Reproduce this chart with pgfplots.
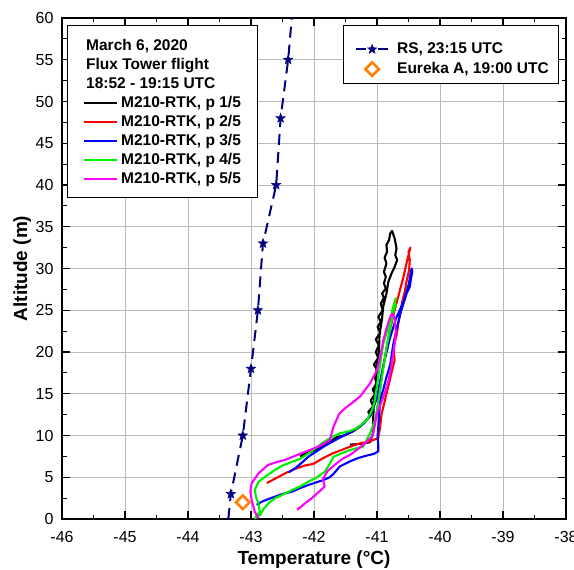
\documentclass[border=0pt]{standalone}
\usepackage{fontspec}
\setmainfont{Liberation Sans}
\usepackage{pgfplots}
\pgfplotsset{compat=1.18}

\definecolor{rsnavy}{RGB}{0,0,128}
\definecolor{eorange}{RGB}{255,128,0}
\definecolor{mgreen}{RGB}{0,240,0}
\definecolor{mmag}{RGB}{255,0,255}

% filled five-point star
\pgfdeclareplotmark{fstar}{%
  \pgfpathmoveto{\pgfpointpolar{90}{\pgfplotmarksize}}%
  \pgfpathlineto{\pgfpointpolar{126}{0.42\pgfplotmarksize}}%
  \pgfpathlineto{\pgfpointpolar{162}{\pgfplotmarksize}}%
  \pgfpathlineto{\pgfpointpolar{198}{0.42\pgfplotmarksize}}%
  \pgfpathlineto{\pgfpointpolar{234}{\pgfplotmarksize}}%
  \pgfpathlineto{\pgfpointpolar{270}{0.42\pgfplotmarksize}}%
  \pgfpathlineto{\pgfpointpolar{306}{\pgfplotmarksize}}%
  \pgfpathlineto{\pgfpointpolar{342}{0.42\pgfplotmarksize}}%
  \pgfpathlineto{\pgfpointpolar{18}{\pgfplotmarksize}}%
  \pgfpathlineto{\pgfpointpolar{54}{0.42\pgfplotmarksize}}%
  \pgfpathclose
  \pgfusepathqfillstroke
}

\pgfplotsset{
  base/.style={
    scale only axis, width=504pt, height=501pt,
    at={(0,0)}, anchor=south west,
    xmin=-46, xmax=-38, ymin=0, ymax=60,
  },
  m210/.style={line width=2.1pt, line join=round},
  lgd/.style={
    draw=none, fill=none,
    font=\bfseries\fontsize{15.5}{18}\selectfont,
    row sep=0pt,
  },
}

\begin{document}
\begin{tikzpicture}
\begin{axis}[base, name=main,
  xtick={-46,-45,...,-38}, ytick={0,5,...,60},
  minor x tick num=1, minor y tick num=1,
  tick align=inside, tick pos=both,
  major tick length=8pt, minor tick length=4.5pt,
  every tick/.style={black, line width=1.1pt},
  grid=major, major grid style={black!27, line width=0.9pt},
  axis line style={line width=1.2pt},
  tick label style={font=\fontsize{16}{19}\selectfont},
  xticklabel style={yshift=-9pt},
  yticklabel style={xshift=-5pt},
  /pgf/number format/assume math mode=true,
  xlabel={\bfseries Temperature (°C)},
  ylabel={\bfseries Altitude (m)},
  label style={font=\fontsize{19}{22}\selectfont},
  xlabel style={at={(axis description cs:0.5,-0.081)}, anchor=center},
  ylabel style={at={(axis description cs:-0.079,0.5)}, anchor=center},
  legend style={lgd, inner xsep=11pt, inner ysep=14.3pt,
    nodes={inner ysep=2pt, text height=12.2pt, text depth=3.5pt},
    at={(rel axis cs:0.5575,0.986)}, anchor=north west},
  legend cell align=left,
]
% radiosonde profile
\addplot[rsnavy, line width=2pt, dash pattern=on 11pt off 7pt, forget plot]
  coordinates {(-43.36,0) (-43.32,3) (-43.13,10) (-43.00,18) (-42.89,25)
               (-42.81,33) (-42.60,40) (-42.53,48) (-42.41,55) (-42.33,62)};
\addplot[rsnavy, only marks, mark=fstar, mark size=5pt, forget plot]
  coordinates {(-43.32,3) (-43.13,10) (-43.00,18) (-42.89,25)
               (-42.81,33) (-42.60,40) (-42.53,48) (-42.41,55)};
% Eureka station
\addplot[eorange, only marks, mark=square, mark size=4.8pt, line width=2.6pt,
  mark options={rotate=45}, forget plot]
  coordinates {(-43.13,2)};

% legend frame
\draw[black, line width=0.8pt, fill=white]
  (rel axis cs:0.5575,0.8703) rectangle (rel axis cs:0.9841,0.986);

\addlegendimage{legend image code/.code={
  \path[draw=none] (0pt,0pt) rectangle (41pt,0.1pt);
  \draw[rsnavy, line width=2pt] (2pt,0pt) -- (12pt,0pt) (24pt,0pt) -- (34pt,0pt);
  \draw[color=rsnavy, fill=rsnavy] plot[only marks, mark=fstar, mark size=5pt] coordinates {(18pt,0pt)};}}
\addlegendentry{RS, 23:15 UTC}
\addlegendimage{legend image code/.code={
  \path[draw=none] (0pt,0pt) rectangle (41pt,0.1pt);
  \draw[eorange, line width=2.6pt] plot[only marks, mark=square, mark size=4.8pt, mark options={rotate=45}] coordinates {(18pt,0pt)};}}
\addlegendentry{Eureka A, 19:00 UTC}
\end{axis}

\begin{axis}[base, hide axis,
  legend style={lgd, inner xsep=12pt, inner ysep=11.5pt,
    nodes={inner ysep=2pt, text height=11.5pt, text depth=3.5pt},
    at={(rel axis cs:0.0099,0.986)}, anchor=north west},
  legend cell align=left,
  legend image code/.code={\path[draw=none] (0pt,0pt) rectangle (40pt,0.1pt); \draw[#1] (5pt,0pt) -- (38pt,0pt);},
]
% legend frame
\draw[black, line width=0.8pt, fill=white]
  (rel axis cs:0.0099,0.6427) rectangle (rel axis cs:0.3869,0.986);

\addlegendimage{empty legend}
\addlegendentry{\hspace*{-35pt}March 6, 2020}
\addlegendimage{empty legend}
\addlegendentry{\hspace*{-35pt}Flux Tower flight}
\addlegendimage{empty legend}
\addlegendentry{\hspace*{-35pt}18:52 - 19:15 UTC}

% p 1/5
\addplot[m210, black] coordinates {
 (-42.22,7.5) (-42.15,7.8) (-42.06,8.0) (-41.95,8.4) (-41.86,8.7) (-41.74,9.3)
 (-41.64,9.8) (-41.52,10.0) (-41.38,10.5) (-41.28,11.0) (-41.16,11.9) (-41.10,12.4)
 (-41.14,12.8) (-41.06,13.5) (-41.10,14.2) (-41.03,15.0) (-41.07,15.5) (-41.00,16.3)
 (-41.04,17.0) (-40.99,17.8) (-41.05,18.5) (-40.98,19.3) (-41.02,20.0) (-40.97,20.8)
 (-41.02,21.5) (-40.95,22.3) (-40.99,23.0) (-40.94,23.6) (-40.98,24.2) (-40.91,25.0)
 (-40.94,25.8) (-40.89,26.5) (-40.92,27.0) (-40.86,27.6) (-40.89,28.2) (-40.86,29.0)
 (-40.89,29.6) (-40.85,30.6) (-40.88,31.3) (-40.84,32.0) (-40.85,32.8) (-40.81,33.4)
 (-40.79,34.2) (-40.76,34.5) (-40.72,33.6) (-40.69,32.4) (-40.71,31.6) (-40.68,31.0)
 (-40.72,30.2) (-40.77,29.4) (-40.82,28.4) (-40.85,27.0) (-40.90,25.5) (-40.92,24.0)
 (-40.96,22.0) (-40.97,20.0) (-41.01,18.0) (-41.02,16.0) (-41.05,14.0) (-41.06,12.0)
 (-41.06,10.3) (-41.11,9.2) (-41.25,9.0) (-41.43,8.9)};
\addlegendentry{M210-RTK, p 1/5}

% p 2/5
\addplot[m210, red] coordinates {
 (-42.75,4.3) (-42.60,4.9) (-42.45,5.5) (-42.30,6.0) (-42.15,6.4) (-42.01,6.6)
 (-41.90,7.1) (-41.80,7.5) (-41.69,7.9) (-41.55,8.3) (-41.38,8.8) (-41.25,9.1)
 (-41.11,9.3) (-40.98,9.7) (-40.95,11.0) (-40.93,12.5) (-40.88,14.0) (-40.85,15.0)
 (-40.80,16.5) (-40.77,17.5) (-40.72,19.0) (-40.74,20.5) (-40.69,22.0) (-40.66,23.5)
 (-40.62,25.0) (-40.60,26.0) (-40.56,27.2) (-40.53,28.5) (-40.49,29.8) (-40.48,31.0)
 (-40.50,32.0) (-40.47,32.5) (-40.52,31.0) (-40.58,29.0) (-40.65,27.0) (-40.72,25.0)
 (-40.80,22.5) (-40.86,20.0) (-40.92,17.5) (-40.96,15.0) (-41.00,13.0)};
\addlegendentry{M210-RTK, p 2/5}

% p 3/5
\addplot[m210, blue] coordinates {
 (-42.91,1.7) (-42.83,2.07) (-42.72,2.4) (-42.62,2.67) (-42.50,3.0) (-42.35,3.27)
 (-42.22,3.7) (-42.09,4.07) (-41.96,4.4) (-41.85,4.67) (-41.75,5.0) (-41.69,5.4)
 (-41.59,6.3) (-41.43,6.9) (-41.30,7.3) (-41.16,7.6) (-41.05,7.8) (-40.98,8.1)
 (-40.98,8.8) (-40.99,10.0) (-40.97,11.86) (-40.95,14.25) (-40.90,15.5) (-40.85,17.0)
 (-40.79,18.5) (-40.74,21.0) (-40.68,23.0) (-40.63,24.6) (-40.58,25.8) (-40.53,27.0)
 (-40.48,27.8) (-40.46,28.8) (-40.44,29.6) (-40.45,30.0) (-40.50,28.0) (-40.58,26.0)
 (-40.70,24.0) (-40.80,21.5) (-40.88,19.0) (-40.95,16.5) (-41.00,14.5) (-41.10,12.5)
 (-41.20,11.5) (-41.38,10.6) (-41.60,9.7) (-41.85,8.66) (-42.00,7.9) (-42.09,7.46)
 (-42.20,6.7) (-42.30,6.07) (-42.40,5.6)};
\addlegendentry{M210-RTK, p 3/5}

% p 4/5
\addplot[m210, mgreen] coordinates {
 (-40.70,26.5) (-40.74,25.5) (-40.78,24.2) (-40.84,22.5) (-40.90,21.0) (-40.93,19.5)
 (-40.98,17.0) (-41.01,15.5) (-41.04,14.0) (-41.08,13.0) (-41.16,11.86) (-41.32,10.86)
 (-41.45,10.5) (-41.59,10.26) (-41.72,9.8) (-41.85,9.2) (-41.95,8.6) (-42.10,7.8)
 (-42.22,7.2) (-42.35,6.86) (-42.50,6.4) (-42.62,5.87) (-42.75,5.2) (-42.88,4.47)
 (-42.94,3.5) (-42.92,2.6) (-42.88,1.88) (-42.86,0.87) (-42.94,0.1) (-42.85,0.5)
 (-42.80,1.2) (-42.72,1.9) (-42.62,2.48) (-42.50,2.9) (-42.35,3.47) (-42.22,3.9)
 (-42.09,4.47) (-41.95,5.0) (-41.83,5.66) (-41.75,6.6) (-41.69,7.46) (-41.55,7.9)
 (-41.43,8.26) (-41.22,8.66) (-41.11,10.26) (-41.03,11.86) (-40.99,13.5) (-40.95,15.5)
 (-40.90,18.0) (-40.85,20.5) (-40.80,22.5) (-40.75,24.5) (-40.70,25.8)};
\addlegendentry{M210-RTK, p 4/5}

% p 5/5
\addplot[m210, mmag] coordinates {
 (-42.27,1.1) (-42.20,1.5) (-42.14,1.9) (-42.05,2.4) (-41.98,2.87) (-41.90,3.4)
 (-41.83,3.9) (-41.86,4.8) (-41.78,5.8) (-41.64,6.67) (-41.55,7.2) (-41.43,7.66)
 (-41.30,8.4) (-41.20,9.0) (-41.08,9.86) (-41.04,11.0) (-41.00,12.66) (-40.93,14.0)
 (-40.88,15.0) (-40.82,16.5) (-40.78,18.0) (-40.75,19.5) (-40.72,21.0) (-40.70,22.5)
 (-40.72,24.0) (-40.76,24.6) (-40.79,24.2) (-40.85,22.8) (-40.90,21.4) (-40.95,19.4)
 (-41.00,17.84) (-41.11,16.25) (-41.27,14.65) (-41.38,14.0) (-41.50,13.3) (-41.60,12.6)
 (-41.69,11.05) (-41.75,9.46) (-41.88,8.86) (-42.05,8.3) (-42.20,7.87) (-42.46,7.07)
 (-42.60,6.8) (-42.73,6.47) (-42.88,5.47) (-42.99,4.28) (-43.01,3.3) (-42.99,2.28)
 (-42.94,0.87) (-42.88,0.08)};
\addlegendentry{M210-RTK, p 5/5}
\end{axis}

\pgfresetboundingbox
\path ([shift={(-62pt,-50pt)}]main.south west) rectangle ([shift={(8pt,18pt)}]main.north east);
\end{tikzpicture}
\end{document}
